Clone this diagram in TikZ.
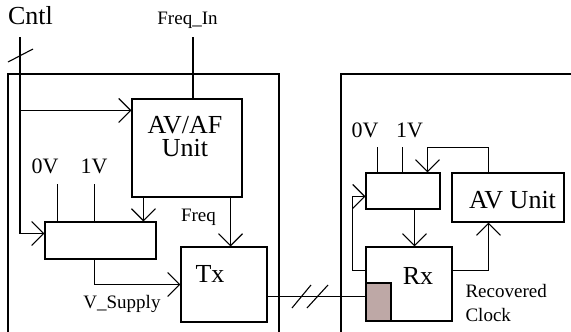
\documentclass[tikz,border=0pt]{standalone}
\usepackage{fontspec}
\setmainfont{Liberation Serif}
\usetikzlibrary{positioning,arrows.meta}
\definecolor{clkbrown}{RGB}{190,168,166}

\begin{document}
\begin{tikzpicture}[x=1pt,y=-1pt,line width=1.1pt,
  >={Straight Barb[length=12pt,width=24pt]},
  blk/.style={draw,inner sep=0pt},
  big/.style={inner sep=0pt,font=\fontsize{26}{23}\selectfont},
  mid/.style={inner sep=0pt,font=\fontsize{22}{22}\selectfont},
  sml/.style={inner sep=0pt,font=\fontsize{19}{24}\selectfont}]
\useasboundingbox (0,0) rectangle (571,332);
% frames of the two sides
\draw (8,332)--(8,74)--(279,74)--(279,332);
\draw (341,332)--(341,74)--(571,74);
% transmitter side
\node[blk,minimum width=110pt,minimum height=98pt] (avaf) at (187,148) {};
\node[big,align=center] (avaflbl) at (185,137) {AV/AF\\Unit};
\node[blk,minimum width=111pt,minimum height=37pt] (muxa) at (100.5,240.5) {};
\node[blk,minimum width=86pt,minimum height=75pt] (tx) at (224,284.5) {};
\node[big] (txlbl) at (210,274) {Tx};
\node[big] (cntl) at (30.5,15.5) {Cntl};
\node[sml] (freqin) at (187.5,20) {Freq\_In};
\node[mid] (zva) at (45,166) {0V};
\node[mid] (ova) at (94,166) {1V};
\node[sml] (freq) at (198.5,217) {Freq};
\node[sml] (vsup) at (122,304) {V\_Supply};
\coordinate (ctop) at (20,37);
\coordinate (fin) at (193,37);
\draw (8,62)--(33,49);
\draw[->] (ctop) |- ([yshift=-12pt]muxa.north west);
\draw[->] (ctop |- avaf.north) ++(0,12) -- ([yshift=-12pt]avaf.north west);
\draw (fin) -- (fin |- avaf.north);
\draw ([xshift=13pt]muxa.north west) -- ++(0,-37);
\draw ([xshift=50pt]muxa.north west) -- ++(0,-37);
\draw[->] ([xshift=12pt]avaf.south west) -- ([xshift=12pt]avaf.south west |- muxa.north);
\draw[->] ([xshift=-12pt]avaf.south east) -- ([xshift=-12pt]avaf.south east |- tx.north);
\draw[->] ([xshift=50pt]muxa.south west) |- (tx.west);
% link between the two sides
\node[blk,minimum width=86pt,minimum height=74pt] (rx) at (409,284) {};
\node[blk,fill=clkbrown,anchor=south west,minimum width=25pt,minimum height=38pt] (clk) at (rx.south west) {};
\draw ([yshift=-12pt]tx.east) -- ([yshift=-12pt]tx.east -| rx.west);
\draw (292,308)--(311,285);
\draw (307,308)--(328,285);
% receiver side
\node[big] (rxlbl) at (418,275.5) {Rx};
\node[blk,minimum width=74pt,minimum height=36pt] (muxb) at (403,191) {};
\node[blk,minimum width=112pt,minimum height=49pt] (avu) at (508,197.5) {};
\node[big] (avulbl) at (512.5,200) {AV Unit};
\node[mid] (zvb) at (365,130) {0V};
\node[mid] (ovb) at (409.5,130) {1V};
\node[sml,align=left,anchor=west] (rclk) at (465,302.5) {Recovered\\Clock};
\draw ([xshift=12pt]muxb.north west) -- ++(0,-25);
\draw ([xshift=37pt]muxb.north west) -- ++(0,-25);
\draw[->] ([xshift=37pt]avu.north west) -- ++(0,-25) -| ([xshift=62pt]muxb.north west);
\draw[->] ([xshift=49pt]muxb.south west) -- ([xshift=49pt]muxb.south west |- rx.north);
\draw[->] ([yshift=-24pt]rx.north east) -| ([xshift=37pt]avu.south west);
\draw[->] ([yshift=-24pt]rx.north west) -- ++(-13,0) |- ([yshift=-24pt]muxb.north west);
\end{tikzpicture}
\end{document}
